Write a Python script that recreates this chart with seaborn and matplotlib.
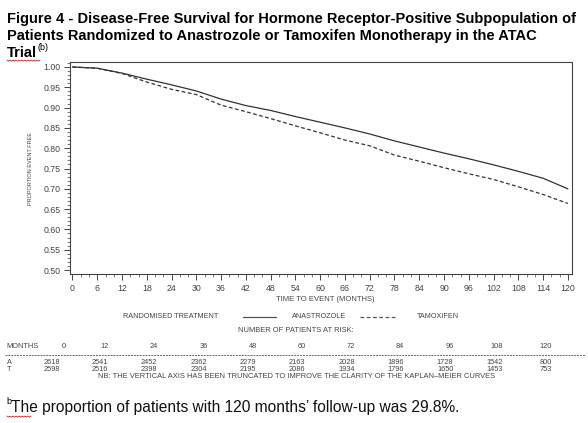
"""
Disease-free survival (ATAC trial, HR-positive subpopulation) - Kaplan-Meier style chart
"""

import numpy as np
import pandas as pd
import matplotlib
matplotlib.use('Agg')
import matplotlib.pyplot as plt
from matplotlib.lines import Line2D
from matplotlib.ticker import MultipleLocator
import seaborn as sns

# ---- data ----
months = [0, 6, 12, 18, 24, 30, 36, 42, 48, 54, 60, 66, 72, 78, 84, 90, 96, 102, 108, 114, 120]
anastrozole = [1.000, 0.997, 0.985, 0.970, 0.956, 0.941, 0.921, 0.905, 0.893, 0.878, 0.864,
               0.850, 0.835, 0.818, 0.803, 0.788, 0.774, 0.759, 0.743, 0.726, 0.700]
tamoxifen = [1.000, 0.997, 0.984, 0.963, 0.945, 0.932, 0.906, 0.890, 0.873, 0.855, 0.838,
             0.820, 0.806, 0.783, 0.768, 0.752, 0.737, 0.723, 0.705, 0.686, 0.664]

risk_months = [0, 12, 24, 36, 48, 60, 72, 84, 96, 108, 120]
risk_a = [2618, 2541, 2452, 2362, 2279, 2163, 2028, 1896, 1728, 1542, 800]
risk_t = [2598, 2516, 2398, 2304, 2195, 2086, 1934, 1796, 1650, 1453, 753]

title_lines = ["Figure 4 - Disease-Free Survival for Hormone Receptor-Positive Subpopulation of",
               "Patients Randomized to Anastrozole or Tamoxifen Monotherapy in the ATAC",
               "Trial"]
footnote = "The proportion of patients with 120 months\u2019 follow-up was 29.8%."

sns.set_style("white")
plt.rcParams['font.family'] = ['Liberation Sans', 'DejaVu Sans']

W, H = 588, 423
fig = plt.figure(figsize=(W / 100, H / 100), dpi=100)


def fx(px):
    return px / W


def fy(py):
    return 1 - py / H


ax = fig.add_axes([fx(70), fy(274), (572 - 70) / W, (274 - 62) / H])

df = pd.DataFrame({
    'month': months * 2,
    'survival': anastrozole + tamoxifen,
    'treatment': ['ANASTROZOLE'] * len(months) + ['TAMOXIFEN'] * len(months),
})
sns.lineplot(data=df, x='month', y='survival', style='treatment',
             dashes={'ANASTROZOLE': '', 'TAMOXIFEN': (3, 2)},
             color='#333333', linewidth=0.9, legend=False, ax=ax)

ax.set_xlim(-0.6, 121)
ax.set_ylim(0.4902, 1.0123)
ax.set_xticks(range(0, 121, 6))
ax.set_yticks(np.arange(0.50, 1.001, 0.05))
ax.yaxis.set_major_formatter(plt.FuncFormatter(lambda v, p: f'{v:.2f}'))
ax.xaxis.set_minor_locator(MultipleLocator(2))
ax.yaxis.set_minor_locator(MultipleLocator(0.01))
ax.tick_params(which='major', direction='out', length=4, width=0.7, colors='#444',
               labelsize=6.3, labelcolor='#444', left=True, bottom=True, pad=3)
ax.tick_params(which='minor', direction='out', length=2, width=0.5, colors='#444',
               left=True, bottom=True)
for s in ax.spines.values():
    s.set_color('#444')
    s.set_linewidth(0.8)
ax.set_xlabel('')
ax.set_ylabel('')

txt = '#444'
fig.text(fx(31), fy(168), 'PROPORTION EVENT FREE', rotation=90, fontsize=4,
         color=txt, ha='center', va='center')
fig.text(fx(325), fy(299.5), 'TIME TO EVENT (MONTHS)', fontsize=5.5, color=txt,
         ha='center', va='center')

# legend row
leg_y = fy(316.5)
fig.text(fx(171), leg_y, 'RANDOMISED TREATMENT', fontsize=5.2, color=txt, ha='center', va='center')
fig.add_artist(Line2D([fx(243), fx(276)], [leg_y, leg_y], color='#555', lw=0.9,
                      transform=fig.transFigure))
fig.text(fx(292), leg_y, 'ANASTROZOLE', fontsize=5.2, color=txt, ha='left', va='center')
fig.add_artist(Line2D([fx(360), fx(397)], [leg_y, leg_y], color='#555', lw=0.9,
                      ls=(0, (3, 2)), transform=fig.transFigure))
fig.text(fx(417), leg_y, 'TAMOXIFEN', fontsize=5.2, color=txt, ha='left', va='center')

# patients at risk table
fs_tab = 5.3
fig.text(fx(296), fy(330.5), 'NUMBER OF PATIENTS AT RISK:', fontsize=5.4, color=txt,
         ha='center', va='center')
col_hdr = [66] + list(np.linspace(109, 552, len(risk_months) - 1))
col_num = [60] + list(np.linspace(108, 552, len(risk_months) - 1))
fig.text(fx(6), fy(347), 'MONTHS', fontsize=fs_tab, color=txt, ha='left', va='center')
for m, xh in zip(risk_months, col_hdr):
    fig.text(fx(xh), fy(347), str(m), fontsize=fs_tab, color=txt, ha='right', va='center')
fig.add_artist(Line2D([fx(5), fx(585)], [fy(354.5), fy(354.5)], color='#666', lw=0.7,
                      ls=(0, (2, 1)), transform=fig.transFigure))
fig.text(fx(7), fy(362), 'A', fontsize=fs_tab, color=txt, ha='left', va='center')
fig.text(fx(7), fy(369.5), 'T', fontsize=fs_tab, color=txt, ha='left', va='center')
for a, t, xn in zip(risk_a, risk_t, col_num):
    fig.text(fx(xn), fy(362), str(a), fontsize=fs_tab, color=txt, ha='right', va='center')
    fig.text(fx(xn), fy(369.5), str(t), fontsize=fs_tab, color=txt, ha='right', va='center')
fig.text(fx(297), fy(376.5),
         'NB: THE VERTICAL AXIS HAS BEEN TRUNCATED TO IMPROVE THE CLARITY OF THE KAPLAN\u2013MEIER CURVES',
         fontsize=5.4, color=txt, ha='center', va='center')

# title
base = [23, 40, 57]
for line, b in zip(title_lines, base):
    fig.text(fx(7), fy(b), line, fontsize=10.5, weight='bold', color='black',
             ha='left', va='baseline')
fig.canvas.draw()
r = fig.canvas.get_renderer()
trial = fig.texts[-1]
bb = trial.get_window_extent(r)
fig.text(bb.x1 / W + fx(1), fy(50), '(b)', fontsize=6.5, color='black',
         ha='left', va='baseline')

# footnote
fig.text(fx(6), fy(404), 'b', fontsize=6.5, color='black', ha='left', va='baseline')
fig.text(fx(11), fy(412), footnote, fontsize=11.2, color='#111', ha='left', va='baseline')


def squiggle(x0, x1, y):
    xs = np.arange(x0, x1 + 0.1, 1.5)
    ys = y + np.where(np.arange(len(xs)) % 2 == 0, 0, 1.2)
    fig.add_artist(Line2D(fx(xs), fy(ys), color='#cc2020', lw=0.6, transform=fig.transFigure))


squiggle(7, 40, 60)
squiggle(7, 31, 416)

fig.savefig('out.png', dpi=100)
